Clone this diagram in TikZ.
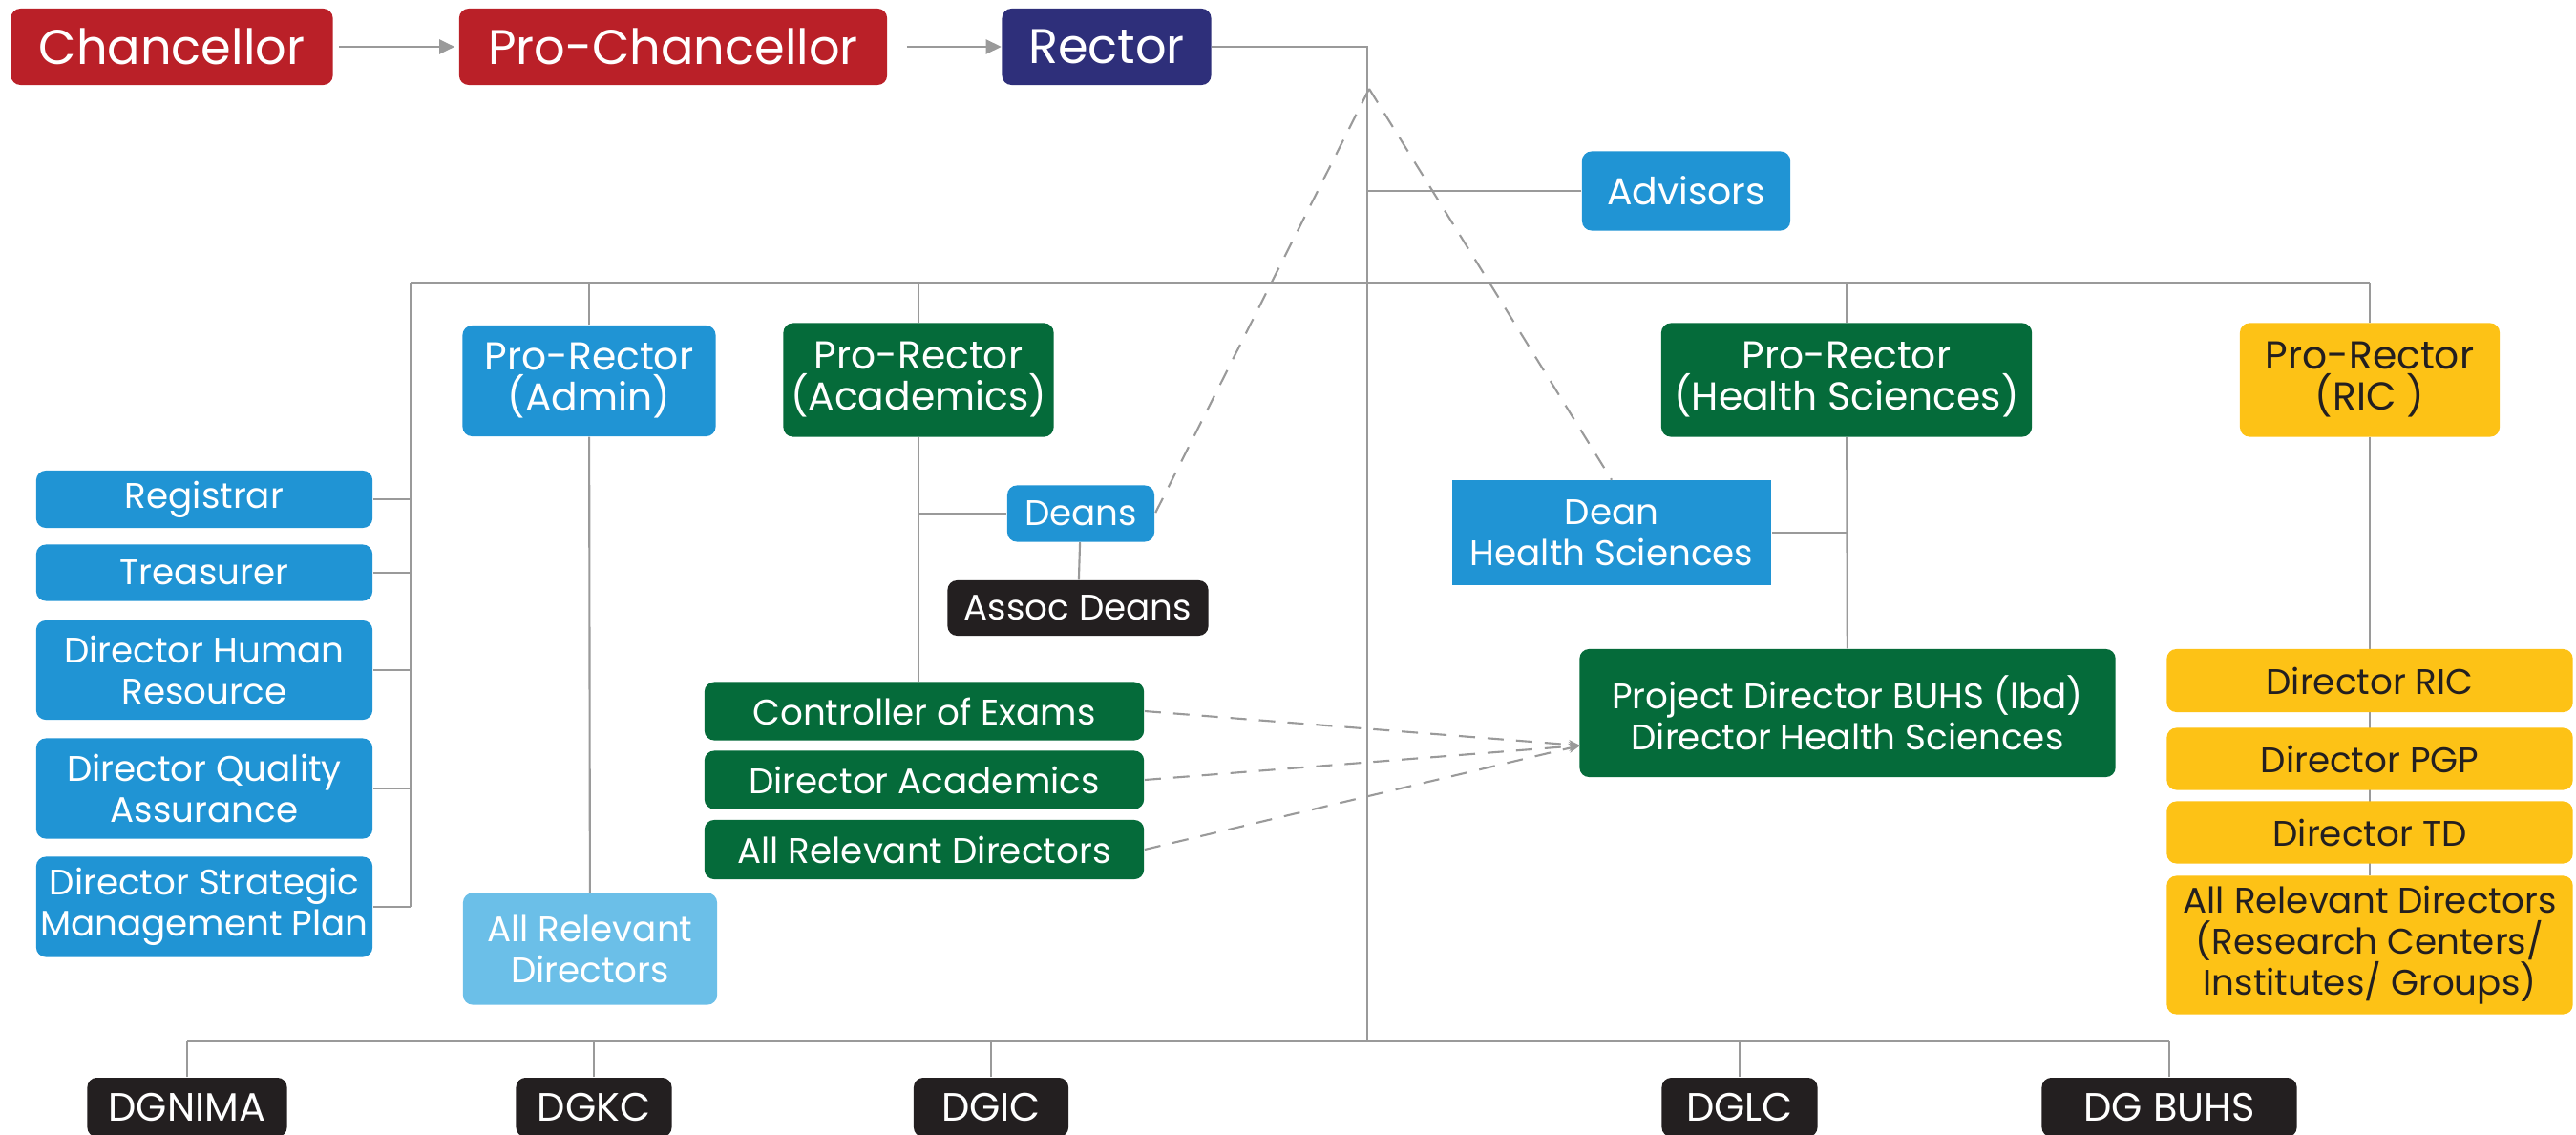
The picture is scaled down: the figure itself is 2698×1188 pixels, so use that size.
\documentclass[tikz,border=0pt]{standalone}
\usepackage{fontspec}
\setmainfont{Poppins}
\usetikzlibrary{arrows.meta,positioning,backgrounds}
\definecolor{unired}{HTML}{BA2028}
\definecolor{uninavy}{HTML}{2E2F7A}
\definecolor{uniblue}{HTML}{2094D4}
\definecolor{unilight}{HTML}{6BBFE8}
\definecolor{unigreen}{HTML}{056B3A}
\definecolor{uniyellow}{HTML}{FDC216}
\definecolor{uniblack}{HTML}{231F20}
\definecolor{linegray}{HTML}{9A9A9A}
\begin{document}
\begin{tikzpicture}[x=0.01cm, y=-0.01cm,
  box/.style = {rounded corners=0.1cm, inner sep=0pt, align=center, text=white},
  big/.style = {box, font=\fontsize{14.5}{17}\selectfont, minimum height=0.8cm},
  mid/.style = {box, font=\fontsize{11.6}{12.2}\selectfont, minimum height=1.19cm},
  small/.style = {box, font=\fontsize{10.6}{12.3}\selectfont},
  link/.style = {draw=linegray, line width=0.6pt},
  rel/.style = {draw=linegray, line width=0.6pt, dash pattern=on 0.17cm off 0.13cm},
  tip/.style = {-{Triangle[length=0.16cm, width=0.15cm]}}]
\useasboundingbox (0,0) rectangle (2698,1188);
\clip (0,0) rectangle (2698,1188);

% top row
\node[big, fill=unired, minimum width=3.37cm] (chan) at (180,49) {Chancellor};
\node[big, fill=unired, minimum width=4.48cm] (prochan) at (705,49) {Pro-Chancellor};
\node[big, fill=uninavy, minimum width=2.19cm] (rector) at (1159,49) {Rector};
\node[small, fill=uniblue, minimum width=2.18cm, minimum height=0.83cm, font=\fontsize{11.2}{13}\selectfont] (adv) at (1766,200) {Advisors};

% pro-rectors
\node[mid, fill=uniblue, minimum width=2.65cm, minimum height=1.16cm] (pradmin) at (617,399) {Pro-Rector\\(Admin)};
\node[mid, fill=unigreen, minimum width=2.83cm] (pracad) at (962,398) {Pro-Rector\\(Academics)};
\node[mid, fill=unigreen, minimum width=3.88cm] (prhs) at (1934,398) {Pro-Rector\\(Health Sciences)};
\node[mid, fill=uniyellow, text=uniblack, minimum width=2.72cm] (prric) at (2482,398) {Pro-Rector\\(RIC )};

% admin side
\node[small, fill=uniblue, minimum width=3.52cm, minimum height=0.6cm] (reg) at (214,523) {Registrar};
\node[small, fill=uniblue, minimum width=3.52cm, minimum height=0.59cm] (treas) at (214,600) {Treasurer};
\node[small, fill=uniblue, minimum width=3.52cm, minimum height=1.04cm] (hr) at (214,702) {Director Human\\Resource};
\node[small, fill=uniblue, minimum width=3.52cm, minimum height=1.05cm] (qa) at (214,826) {Director Quality\\Assurance};
\node[small, fill=uniblue, minimum width=3.52cm, minimum height=1.05cm] (smp) at (214,950) {Director Strategic\\Management Plan};
\node[small, fill=unilight, minimum width=2.66cm, minimum height=1.17cm] (admindirs) at (618,994) {All Relevant\\Directors};

% academics
\node[small, fill=uniblue, minimum width=1.54cm, minimum height=0.59cm] (deans) at (1132,538) {Deans};
\node[small, fill=uniblack, minimum width=2.73cm, minimum height=0.58cm] (assoc) at (1129,637) {Assoc Deans};
\node[small, fill=unigreen, minimum width=4.6cm, minimum height=0.61cm] (coe) at (968,745) {Controller of Exams};
\node[small, fill=unigreen, minimum width=4.6cm, minimum height=0.61cm] (diracad) at (968,817) {Director Academics};
\node[small, fill=unigreen, minimum width=4.6cm, minimum height=0.62cm] (acaddirs) at (968,890) {All Relevant Directors};

% health sciences
\node[small, fill=uniblue, rounded corners=0pt, minimum width=3.34cm, minimum height=1.09cm] (deanhs) at (1688,558) {Dean\\Health Sciences};
\node[small, fill=unigreen, minimum width=5.61cm, minimum height=1.34cm] (pdbuhs) at (1935,747) {Project Director BUHS (lbd)\\Director Health Sciences};

% ric
\node[small, fill=uniyellow, text=uniblack, minimum width=4.25cm, minimum height=0.66cm] (dirric) at (2482,713) {Director RIC};
\node[small, fill=uniyellow, text=uniblack, minimum width=4.25cm, minimum height=0.65cm] (dirpgp) at (2482,795) {Director PGP};
\node[small, fill=uniyellow, text=uniblack, minimum width=4.25cm, minimum height=0.65cm] (dirtd) at (2482,872) {Director TD};
\node[small, fill=uniyellow, text=uniblack, minimum width=4.25cm, minimum height=1.45cm] (ricdirs) at (2482,990) {All Relevant Directors\\(Research Centers/\\Institutes/ Groups)};

% directors general
\node[small, fill=uniblack, minimum width=2.09cm, minimum height=0.62cm, font=\fontsize{11.8}{13}\selectfont] (dgnima) at (196,1160) {DGNIMA};
\node[small, fill=uniblack, minimum width=1.63cm, minimum height=0.62cm, font=\fontsize{11.8}{13}\selectfont] (dgkc) at (622,1160) {DGKC};
\node[small, fill=uniblack, minimum width=1.62cm, minimum height=0.62cm, font=\fontsize{11.8}{13}\selectfont] (dgic) at (1038,1160) {DGIC};
\node[small, fill=uniblack, minimum width=1.63cm, minimum height=0.62cm, font=\fontsize{11.8}{13}\selectfont] (dglc) at (1822,1160) {DGLC};
\node[small, fill=uniblack, minimum width=2.67cm, minimum height=0.62cm, font=\fontsize{11.8}{13}\selectfont] (dgbuhs) at (2272,1160) {DG BUHS};

\coordinate (trunk) at (1432,1091);
\coordinate (apex) at (1434,93);
\coordinate (busL) at (430,296);
\coordinate (merge) at (1655,781);

\draw[link, tip, shorten <=0.06cm, shorten >=0.04cm] (chan) -- (prochan);
\draw[link, tip, shorten <=0.2cm] (prochan) -- (rector);

\begin{scope}[on background layer]
  \draw[link] (rector.east) -| (trunk);
  \draw[link] (adv.west) -- (adv.west -| trunk);
  \draw[link] (busL) -- (prric.north |- busL);
  \draw[link] (busL) -- (busL |- smp.east);
  \foreach \n in {reg,treas,hr,qa,smp}
    \draw[link] (\n.east) -- (\n.east -| busL);
  \foreach \n in {pradmin,pracad,prhs,prric}
    \draw[link] (\n.north) -- (\n.north |- busL);
  \draw[link] (pradmin) -- (admindirs);
  \draw[link] (pracad) -- (pracad |- coe.north);
  \draw[link] (pracad |- deans) -- (deans);
  \draw[link] (deans) -- (assoc);
  \draw[link] (prhs) -- (pdbuhs);
  \draw[link] (deanhs.east) -- (prhs |- deanhs.east);
  \draw[link] (prric) -- (ricdirs);
  \draw[link] (dgnima.north |- trunk) -- (dgbuhs.north |- trunk);
  \foreach \n in {dgnima,dgkc,dgic,dglc,dgbuhs}
    \draw[link] (\n.north) -- (\n.north |- trunk);
\end{scope}

% dashed links
\draw[rel] (apex) -- (deans.east);
\draw[rel] (apex) -- (deanhs.north);
\foreach \n in {coe,diracad,acaddirs}
  \draw[rel, -{Stealth[length=0.12cm, width=0.1cm]}] (\n.east) -- (merge);
\end{tikzpicture}
\end{document}
